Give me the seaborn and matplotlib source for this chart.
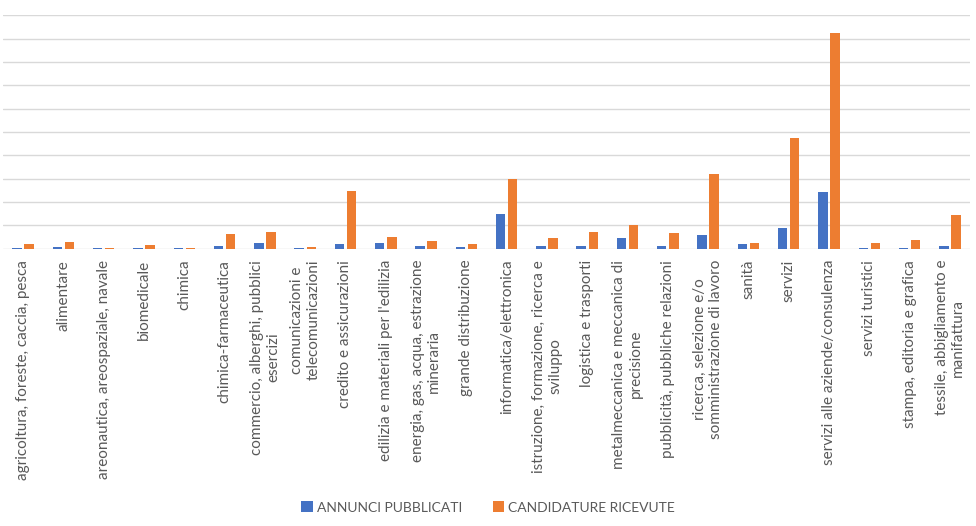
import seaborn as sns
import matplotlib.pyplot as plt
import pandas as pd

settori = [
    "agricoltura, foreste, caccia, pesca",
    "alimentare",
    "areonautica, areospaziale, navale",
    "biomedicale",
    "chimica",
    "chimica-farmaceutica",
    "commercio, alberghi, pubblici\nesercizi",
    "comunicazioni e\ntelecomunicazioni",
    "credito e assicurazioni",
    "edilizia e materiali per l'edilizia",
    "energia, gas, acqua, estrazione\nmineraria",
    "grande distribuzione",
    "informatica/elettronica",
    "istruzione, formazione, ricerca e\nsviluppo",
    "logistica e trasporti",
    "metalmeccanica e meccanica di\nprecisione",
    "pubblicità, pubbliche relazioni",
    "ricerca, selezione e/o\nsomministrazione di lavoro",
    "sanità",
    "servizi",
    "servizi alle aziende/consulenza",
    "servizi turistici",
    "stampa, editoria e grafica",
    "tessile, abbigliamento e\nmanifattura",
]
annunci = [3, 7, 3, 3, 3, 12, 23, 3, 19, 23, 12, 7,
           147, 12, 12, 46, 12, 57, 21, 89, 242, 3, 3, 12]
candidature = [21, 30, 3, 17, 3, 62, 70, 7, 246, 50, 34, 21,
               297, 46, 70, 100, 66, 320, 26, 474, 924, 26, 39, 143]

df = pd.DataFrame({
    "settore": settori * 2,
    "valore": annunci + candidature,
    "serie": ["ANNUNCI PUBBLICATI"] * len(settori) + ["CANDIDATURE RICEVUTE"] * len(settori),
})

sns.set_style("white")
plt.rcParams["font.family"] = ["Lato", "DejaVu Sans"]

fig = plt.figure(figsize=(9.76, 5.26), dpi=100)
ax = fig.add_axes([3 / 976, 1 - 248.7 / 526, 967 / 976, (248.7 - 15.3) / 526])

sns.barplot(data=df, x="settore", y="valore", hue="serie",
            palette=["#4472C4", "#ED7D31"], saturation=1, width=0.6, gap=0.22,
            edgecolor="none", ax=ax)

ax.set_ylim(0, 1000)
ax.set_yticks(range(0, 1001, 100))
ax.set_yticklabels([])
ax.yaxis.grid(True, color="#D9D9D9", linewidth=1)
ax.set_axisbelow(True)
for s in ax.spines.values():
    s.set_visible(False)
ax.tick_params(axis="both", length=0)
ax.tick_params(axis="x", pad=8)
ax.set_xlim(-0.5, len(settori) - 0.5)
ax.set_xlabel("")
ax.set_ylabel("")
for lab in ax.get_xticklabels():
    lab.set_rotation(90)
    lab.set_multialignment("center")
    lab.set_color("#595959")
    lab.set_fontsize(11)

h, l = ax.get_legend_handles_labels()
ax.get_legend().remove()
leg = fig.legend(h, l, loc="lower center", bbox_to_anchor=(0.5, 0.0), ncol=2,
                 frameon=False, fontsize=10, handlelength=0.8, handleheight=0.8,
                 handletextpad=0.3, columnspacing=2.2)
for t in leg.get_texts():
    t.set_color("#595959")

fig.savefig("out.png", dpi=100)
